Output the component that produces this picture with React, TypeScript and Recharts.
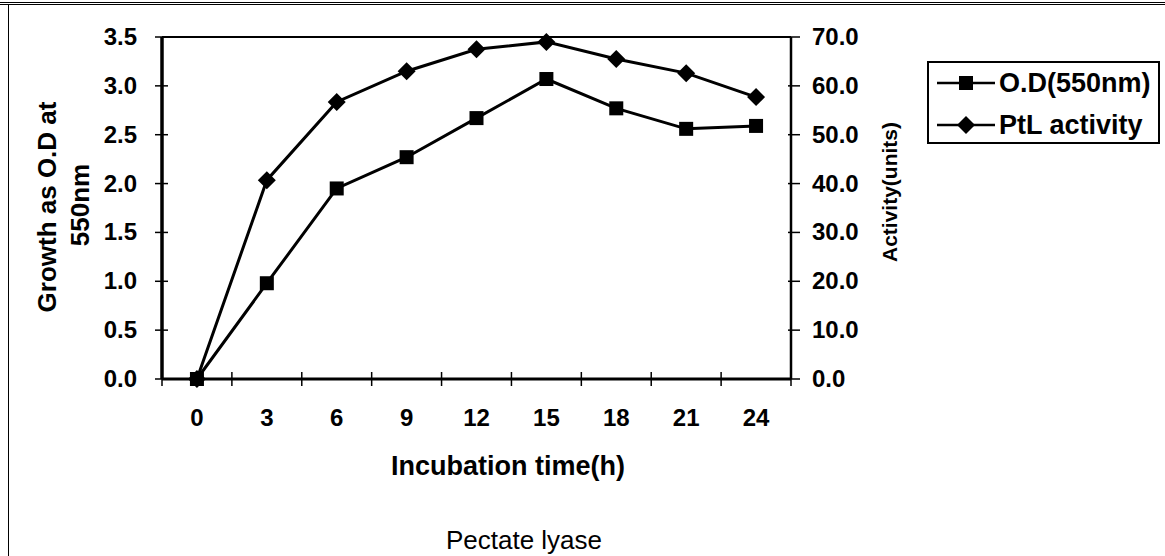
import React from 'react';
import { ComposedChart, Line, XAxis, YAxis, ReferenceLine, Legend, Label } from 'recharts';

// ---- data ----
const times = [0, 3, 6, 9, 12, 15, 18, 21, 24];
const odValues = [0.0, 0.98, 1.95, 2.27, 2.67, 3.07, 2.77, 2.56, 2.59];
const ptlValues = [0.0, 40.7, 56.7, 63.0, 67.5, 69.0, 65.5, 62.6, 57.7];
const leftTicks = [0, 0.5, 1.0, 1.5, 2.0, 2.5, 3.0, 3.5];
const rightTicks = [0, 10, 20, 30, 40, 50, 60, 70];
const seriesNames = ['O.D(550nm)', 'PtL activity'];
const xTitle = 'Incubation time(h)';
const leftTitle = ['Growth as O.D at', '550nm'];
const rightTitle = 'Activity(units)';
const caption = 'Pectate lyase';

const data = times.map((t, i) => ({ time: t, od: odValues[i], ptl: ptlValues[i] }));

// ---- layout ----
const W = 1165;
const H = 556;
const MARGIN = { top: 37, left: 62, right: 274, bottom: 117 };
const Y_W = 100;
const X_H = 60;
const PLOT_W = W - MARGIN.left - MARGIN.right - 2 * Y_W;
const HALF_STEP = PLOT_W / times.length / 2;
const FONT = '"Liberation Sans", Arial, Helvetica, sans-serif';
const TICK_FS = 24;

const XTick = (props: any) => {
  const { x, y, payload, index } = props;
  const last = index === times.length - 1;
  return (
    <g>
      <line x1={x - HALF_STEP} x2={x - HALF_STEP} y1={y - 7} y2={y + 7} stroke="#000" strokeWidth={1.5} />
      {last && <line x1={x + HALF_STEP} x2={x + HALF_STEP} y1={y - 7} y2={y + 7} stroke="#000" strokeWidth={1.5} />}
      <text x={x} y={y + 47} textAnchor="middle" fontFamily={FONT} fontWeight="bold" fontSize={TICK_FS} fill="#000">
        {payload.value}
      </text>
    </g>
  );
};

const LeftTick = (props: any) => {
  const { x, y, payload } = props;
  return (
    <g>
      <line x1={x - 7} x2={x + 6} y1={y} y2={y} stroke="#000" strokeWidth={1.5} />
      <text x={x - 25} y={y + 8} textAnchor="end" fontFamily={FONT} fontWeight="bold" fontSize={TICK_FS} fill="#000">
        {Number(payload.value).toFixed(1)}
      </text>
    </g>
  );
};

const RightTick = (props: any) => {
  const { x, y, payload } = props;
  return (
    <g>
      <line x1={x - 3} x2={x + 9} y1={y} y2={y} stroke="#000" strokeWidth={1.5} />
      <text x={x + 21} y={y + 8} textAnchor="start" fontFamily={FONT} fontWeight="bold" fontSize={TICK_FS} fill="#000">
        {Number(payload.value).toFixed(1)}
      </text>
    </g>
  );
};

const SquareDot = (props: any) => {
  const { cx, cy, index } = props;
  if (cx == null || cy == null) return <g key={`s${index}`} />;
  return <rect key={`s${index}`} x={cx - 7} y={cy - 7} width={14} height={14} fill="#000" />;
};

const DiamondDot = (props: any) => {
  const { cx, cy, index } = props;
  if (cx == null || cy == null) return <g key={`d${index}`} />;
  return <polygon key={`d${index}`} points={`${cx},${cy - 9} ${cx + 9},${cy} ${cx},${cy + 9} ${cx - 9},${cy}`} fill="#000" />;
};

const LegendBox = () => (
  <div
    style={{
      width: 233,
      height: 83,
      border: '2px solid #000',
      boxSizing: 'border-box',
      background: '#fff',
      fontFamily: FONT,
      fontWeight: 'bold',
      fontSize: 27,
      color: '#000',
      position: 'relative',
    }}
  >
    {seriesNames.map((name, i) => (
      <div key={name} style={{ position: 'absolute', left: 8, top: i === 0 ? 2 : 44, height: 36, display: 'flex', alignItems: 'center', whiteSpace: 'nowrap' }}>
        <svg width={58} height={20} style={{ marginRight: 4 }}>
          <line x1={0} x2={58} y1={10} y2={10} stroke="#000" strokeWidth={2.5} />
          {i === 0 ? (
            <rect x={22} y={3} width={14} height={14} fill="#000" />
          ) : (
            <polygon points="29,1 38,10 29,19 20,10" fill="#000" />
          )}
        </svg>
        <span>{name}</span>
      </div>
    ))}
  </div>
);

const LeftTitle = () => (
  <g>
    <text transform="translate(47,207) rotate(-90)" textAnchor="middle" dominantBaseline="central" fontFamily={FONT} fontWeight="bold" fontSize={26} fill="#000">
      {leftTitle[0]}
    </text>
    <text transform="translate(80,205) rotate(-90)" textAnchor="middle" dominantBaseline="central" fontFamily={FONT} fontWeight="bold" fontSize={26} fill="#000">
      {leftTitle[1]}
    </text>
  </g>
);

const RightTitle = () => (
  <text transform="translate(889,192) rotate(-90)" textAnchor="middle" dominantBaseline="central" fontFamily={FONT} fontWeight="bold" fontSize={21} fill="#000">
    {rightTitle}
  </text>
);

const XTitle = () => (
  <g>
    <text x={508} y={475} textAnchor="middle" fontFamily={FONT} fontWeight="bold" fontSize={27} fill="#000">
      {xTitle}
    </text>
    <text x={524} y={549} textAnchor="middle" fontFamily={FONT} fontSize={26} fill="#000">
      {caption}
    </text>
  </g>
);

export default function App() {
  return (
    <div style={{ position: 'absolute', left: 0, top: 0, width: W, height: H, background: '#fff', overflow: 'hidden' }}>
      <div style={{ position: 'absolute', left: 0, top: 2, width: W, height: 0, borderTop: '3px double #000' }} />
      <div style={{ position: 'absolute', left: 8, top: 4, width: 0, height: H, borderLeft: '1.5px solid #000' }} />
      <ComposedChart width={W} height={H} data={data} margin={MARGIN} style={{ position: 'absolute', left: 0, top: 0 }}>
        <XAxis
          dataKey="time"
          type="number"
          domain={[-1.5, 25.5]}
          ticks={times}
          interval={0}
          height={X_H}
          tickSize={0}
          tickMargin={0}
          tickLine={false}
          tick={<XTick />}
          axisLine={{ stroke: '#000', strokeWidth: 3 }}
        >
          <Label content={<XTitle />} />
        </XAxis>
        <YAxis
          yAxisId="left"
          orientation="left"
          domain={[0, 3.5]}
          ticks={leftTicks}
          interval={0}
          width={Y_W}
          tickSize={0}
          tickMargin={0}
          tickLine={false}
          tick={<LeftTick />}
          axisLine={{ stroke: '#000', strokeWidth: 3.5 }}
        >
          <Label content={<LeftTitle />} />
        </YAxis>
        <YAxis
          yAxisId="right"
          orientation="right"
          domain={[0, 70]}
          ticks={rightTicks}
          interval={0}
          width={Y_W}
          tickSize={0}
          tickMargin={0}
          tickLine={false}
          tick={<RightTick />}
          axisLine={{ stroke: '#000', strokeWidth: 2.5 }}
        >
          <Label content={<RightTitle />} />
        </YAxis>
        <ReferenceLine yAxisId="left" y={3.5} stroke="#000" strokeWidth={2} />
        <Line
          yAxisId="left"
          dataKey="od"
          name={seriesNames[0]}
          stroke="#000"
          strokeWidth={3}
          dot={<SquareDot />}
          activeDot={false}
          isAnimationActive={false}
        />
        <Line
          yAxisId="right"
          dataKey="ptl"
          name={seriesNames[1]}
          stroke="#000"
          strokeWidth={3}
          dot={<DiamondDot />}
          activeDot={false}
          isAnimationActive={false}
        />
        <Legend
          layout="vertical"
          align="center"
          verticalAlign="middle"
          content={<LegendBox />}
          wrapperStyle={{ position: 'absolute', left: 927, top: 61, width: 233, height: 83 }}
        />
      </ComposedChart>
    </div>
  );
}
